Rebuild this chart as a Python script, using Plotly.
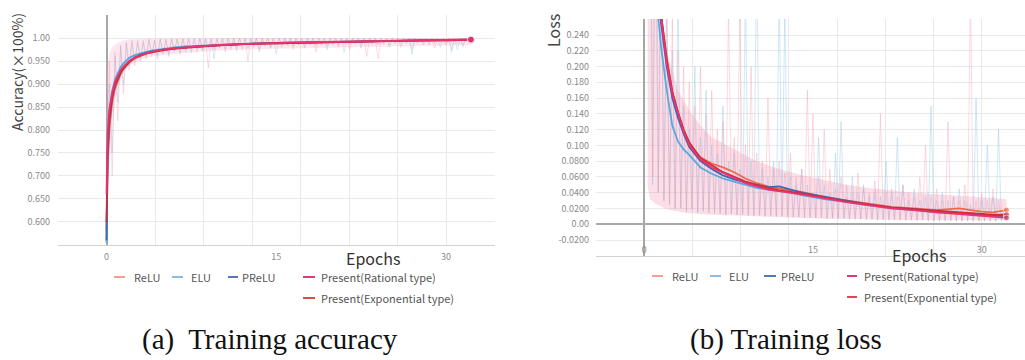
import plotly.graph_objects as go

# ---------------- data: training accuracy (left) ----------------
acc_epochs = [0, 0.1, 0.25, 0.5, 0.75, 1, 1.25, 1.5, 2, 2.5, 3, 3.5, 4, 5, 6, 7, 8,
              10, 12, 14, 16, 18, 20, 22, 24, 26, 28, 30, 32.2]
acc_relu = [0.58, 0.72, 0.80, 0.86, 0.89, 0.908, 0.922, 0.932, 0.946, 0.956, 0.962, 0.967, 0.970,
            0.974, 0.977, 0.980, 0.982, 0.985, 0.987, 0.988, 0.990, 0.991, 0.992, 0.992, 0.993,
            0.994, 0.995, 0.995, 0.996]
acc_elu = [0.555, 0.78, 0.84, 0.885, 0.91, 0.925, 0.937, 0.945, 0.957, 0.963, 0.967, 0.970, 0.973,
           0.977, 0.980, 0.982, 0.983, 0.986, 0.988, 0.989, 0.990, 0.991, 0.992, 0.993, 0.994,
           0.994, 0.995, 0.996, 0.9965]
acc_prelu = [0.56, 0.74, 0.82, 0.87, 0.897, 0.913, 0.925, 0.935, 0.948, 0.958, 0.964, 0.968, 0.971,
             0.975, 0.978, 0.980, 0.982, 0.985, 0.987, 0.989, 0.990, 0.991, 0.992, 0.993, 0.993,
             0.994, 0.995, 0.996, 0.9965]
acc_rational = [0.66, 0.79, 0.845, 0.88, 0.905, 0.918, 0.930, 0.938, 0.950, 0.958, 0.963, 0.967,
                0.970, 0.975, 0.978, 0.980, 0.982, 0.985, 0.987, 0.989, 0.990, 0.991, 0.992,
                0.993, 0.994, 0.994, 0.995, 0.996, 0.997]
acc_exponential = [0.60, 0.76, 0.825, 0.872, 0.898, 0.913, 0.926, 0.935, 0.948, 0.957, 0.962,
                   0.966, 0.969, 0.974, 0.977, 0.979, 0.981, 0.984, 0.987, 0.988, 0.990, 0.991,
                   0.991, 0.992, 0.993, 0.994, 0.995, 0.995, 0.996]

# envelope of the raw (unsmoothed) accuracy values
acc_band_epochs = [0.05, 0.25, 0.5, 1, 1.5, 2, 3, 4, 6, 8, 10, 15, 20, 25, 30, 32.2]
acc_band_low = [0.60, 0.72, 0.82, 0.89, 0.925, 0.94, 0.953, 0.96, 0.966, 0.97, 0.973, 0.977,
                0.980, 0.982, 0.984, 0.985]
acc_band_high = [0.93, 0.965, 0.98, 0.99, 0.995, 0.997, 0.998, 0.999, 0.999, 1.0, 1.0, 1.0, 1.0,
                 1.0, 1.0, 1.0]

RAW_STEP = 0.25  # epochs between raw (unsmoothed) samples
acc_raw_pink = [
    0.62, 0.95, 0.70, 0.97, 0.82, 0.98, 0.88, 0.99,
    0.93, 0.99, 0.94, 0.995, 0.95, 0.99, 0.955, 0.995,
    0.96, 0.995, 0.955, 0.998, 0.965, 0.995, 0.96, 0.998,
    0.97, 0.998, 0.965, 0.999, 0.97, 0.998, 0.975, 0.999,
    0.97, 0.999, 0.975, 0.998, 0.935, 0.999, 0.975, 0.999,
    0.978, 0.999, 0.97, 0.999, 0.975, 0.999, 0.98, 1.0,
    0.975, 0.999, 0.95, 0.999, 0.98, 1.0, 0.975, 0.999,
    0.982, 1.0, 0.978, 0.999, 0.985, 1.0, 0.98, 1.0,
    0.984, 1.0, 0.975, 1.0, 0.985, 0.999, 0.982, 1.0,
    0.985, 1.0, 0.97, 1.0, 0.986, 1.0, 0.984, 1.0,
    0.986, 1.0, 0.98, 1.0, 0.987, 1.0, 0.975, 1.0,
    0.987, 1.0, 0.985, 1.0, 0.96, 1.0, 0.986, 1.0,
    0.955, 1.0, 0.987, 1.0, 0.985, 1.0, 0.988, 1.0,
    0.98, 1.0, 0.988, 1.0, 0.975, 1.0, 0.989, 1.0,
    0.985, 1.0, 0.99, 1.0, 0.978, 1.0, 0.99, 1.0,
    0.985, 1.0, 0.975, 1.0, 0.988, 1.0, 0.98, 1.0, 0.99]
acc_raw_blue = [
    0.58, 0.90, 0.75, 0.96, 0.86, 0.985, 0.90, 0.99,
    0.94, 0.995, 0.95, 0.99, 0.958, 0.995, 0.96, 0.998,
    0.965, 0.995, 0.962, 0.998, 0.968, 0.998, 0.965, 0.999,
    0.972, 0.998, 0.97, 0.999, 0.974, 0.999, 0.968, 0.999,
    0.976, 0.999, 0.972, 0.999, 0.978, 0.999, 0.955, 0.999,
    0.979, 1.0, 0.976, 0.999, 0.98, 1.0, 0.972, 1.0,
    0.982, 1.0, 0.978, 1.0, 0.984, 1.0, 0.97, 1.0,
    0.984, 1.0, 0.98, 1.0, 0.965, 1.0, 0.985, 1.0,
    0.986, 1.0, 0.982, 1.0, 0.986, 1.0, 0.978, 1.0,
    0.987, 1.0, 0.984, 1.0, 0.988, 1.0, 0.975, 1.0,
    0.988, 1.0, 0.985, 1.0, 0.97, 1.0, 0.987, 1.0,
    0.989, 1.0, 0.978, 1.0, 0.988, 1.0, 0.99, 1.0,
    0.985, 1.0, 0.989, 1.0, 0.98, 1.0, 0.99, 1.0,
    0.988, 1.0, 0.99, 1.0, 0.965, 1.0, 0.99, 1.0,
    0.99, 1.0, 0.985, 1.0, 0.99, 1.0, 0.98, 1.0,
    0.99, 1.0, 0.97, 1.0, 0.975, 1.0, 0.985, 1.0, 0.99]

# ---------------- data: training loss (right) ----------------
loss_epochs = [0, 0.5, 1.0, 1.5, 2.0, 2.5, 3, 3.5, 4, 5, 6, 7, 8, 9, 10, 11, 12, 13, 14,
               16, 18, 20, 22, 24, 26, 28, 30, 31, 32.2]
loss_relu = [0.66, 0.47, 0.34, 0.265, 0.21, 0.168, 0.142, 0.12, 0.100, 0.085, 0.077, 0.072, 0.066,
             0.058, 0.052, 0.048, 0.045, 0.043, 0.041, 0.034, 0.030, 0.026, 0.022, 0.020, 0.018,
             0.020, 0.016, 0.015, 0.018]
loss_elu = [0.60, 0.42, 0.30, 0.225, 0.17, 0.125, 0.105, 0.095, 0.088, 0.072, 0.064, 0.058, 0.054,
            0.050, 0.046, 0.044, 0.042, 0.040, 0.037, 0.032, 0.028, 0.024, 0.020, 0.018, 0.015,
            0.014, 0.012, 0.011, 0.010]
loss_prelu = [0.65, 0.46, 0.33, 0.255, 0.20, 0.16, 0.135, 0.115, 0.098, 0.080, 0.070, 0.062, 0.057,
              0.053, 0.050, 0.047, 0.048, 0.044, 0.040, 0.035, 0.030, 0.025, 0.021, 0.019, 0.016,
              0.014, 0.012, 0.011, 0.010]
loss_rational = [0.67, 0.47, 0.34, 0.262, 0.205, 0.165, 0.14, 0.118, 0.100, 0.082, 0.072, 0.065,
                 0.058, 0.052, 0.048, 0.044, 0.042, 0.040, 0.038, 0.033, 0.028, 0.024, 0.020,
                 0.018, 0.015, 0.013, 0.011, 0.010, 0.008]
loss_exponential = [0.68, 0.48, 0.345, 0.266, 0.21, 0.168, 0.142, 0.12, 0.104, 0.084, 0.075,
                    0.066, 0.060, 0.054, 0.050, 0.046, 0.043, 0.041, 0.039, 0.034, 0.029, 0.025,
                    0.021, 0.019, 0.017, 0.015, 0.013, 0.012, 0.012]

# envelope of the raw (unsmoothed) loss values
loss_band_epochs = [0.3, 0.5, 1, 1.5, 2, 3, 4, 5, 6, 8, 10, 12, 14, 16, 18, 20, 24, 28, 32.2]
loss_band_low = [0.05, 0.032, 0.026, 0.022, 0.019, 0.016, 0.014, 0.013, 0.012, 0.011, 0.010,
                 0.009, 0.008, 0.007, 0.007, 0.006, 0.005, 0.005, 0.005]
loss_band_high = [0.30, 0.30, 0.30, 0.27, 0.22, 0.17, 0.145, 0.125, 0.11, 0.095, 0.08, 0.07,
                  0.062, 0.056, 0.05, 0.046, 0.04, 0.036, 0.032]

loss_raw_pink = [
    0.70, 0.45, 0.60, 0.06, 0.50, 0.04, 0.40, 0.03,
    0.30, 0.025, 0.26, 0.02, 0.22, 0.02, 0.20, 0.015,
    0.18, 0.02, 0.15, 0.015, 0.20, 0.018, 0.14, 0.015,
    0.17, 0.014, 0.12, 0.015, 0.13, 0.012, 0.28, 0.014,
    0.11, 0.012, 0.28, 0.013, 0.10, 0.012, 0.20, 0.011,
    0.09, 0.012, 0.08, 0.01, 0.16, 0.012, 0.07, 0.01,
    0.08, 0.01, 0.065, 0.01, 0.09, 0.009, 0.06, 0.01,
    0.07, 0.009, 0.17, 0.01, 0.14, 0.008, 0.06, 0.009,
    0.12, 0.008, 0.07, 0.009, 0.045, 0.008, 0.06, 0.008,
    0.05, 0.007, 0.04, 0.008, 0.065, 0.007, 0.045, 0.007,
    0.04, 0.007, 0.055, 0.006, 0.14, 0.007, 0.04, 0.006,
    0.045, 0.006, 0.035, 0.006, 0.05, 0.005, 0.04, 0.006,
    0.035, 0.005, 0.06, 0.006, 0.10, 0.005, 0.035, 0.005,
    0.045, 0.005, 0.03, 0.005, 0.13, 0.005, 0.035, 0.004,
    0.03, 0.004, 0.05, 0.005, 0.30, 0.004, 0.03, 0.004,
    0.04, 0.004, 0.03, 0.004, 0.045, 0.004, 0.03, 0.005, 0.02]
loss_raw_blue = [
    0.65, 0.50, 0.55, 0.05, 0.45, 0.04, 0.35, 0.03,
    0.28, 0.025, 0.22, 0.02, 0.30, 0.02, 0.15, 0.018,
    0.12, 0.018, 0.20, 0.015, 0.11, 0.016, 0.17, 0.014,
    0.10, 0.014, 0.09, 0.013, 0.15, 0.012, 0.08, 0.013,
    0.09, 0.012, 0.07, 0.012, 0.30, 0.011, 0.08, 0.011,
    0.35, 0.011, 0.07, 0.01, 0.06, 0.01, 0.08, 0.01,
    0.30, 0.01, 0.28, 0.009, 0.06, 0.009, 0.05, 0.009,
    0.07, 0.008, 0.05, 0.008, 0.04, 0.008, 0.11, 0.008,
    0.05, 0.007, 0.04, 0.007, 0.09, 0.007, 0.13, 0.007,
    0.035, 0.006, 0.06, 0.006, 0.04, 0.006, 0.05, 0.006,
    0.035, 0.006, 0.04, 0.005, 0.035, 0.005, 0.08, 0.005,
    0.04, 0.005, 0.11, 0.005, 0.05, 0.005, 0.03, 0.005,
    0.045, 0.005, 0.03, 0.005, 0.035, 0.004, 0.15, 0.004,
    0.03, 0.004, 0.04, 0.004, 0.03, 0.004, 0.035, 0.004,
    0.045, 0.004, 0.03, 0.004, 0.025, 0.004, 0.16, 0.004,
    0.03, 0.004, 0.10, 0.004, 0.035, 0.004, 0.12, 0.004, 0.02]

series_names = ["ReLU", "ELU", "PReLU", "Present(Rational type)", "Present(Exponential type)"]
acc_x_ticks = [0, 15, 30]
acc_y_ticks = [0.55, 0.60, 0.65, 0.70, 0.75, 0.80, 0.85, 0.90, 0.95, 1.00, 1.05]
acc_y_labels = ["", "0.600", "0.650", "0.700", "0.750", "0.800", "0.850", "0.900", "0.950", "1.00", ""]
loss_y_ticks = [-0.04, -0.02, 0.0, 0.02, 0.04, 0.06, 0.08, 0.10, 0.12, 0.14, 0.16, 0.18, 0.20,
                0.22, 0.24, 0.26]
loss_y_labels = ["", "-0.0200", "0.00", "0.0200", "0.0400", "0.0600", "0.0800", "0.100", "0.120",
                 "0.140", "0.160", "0.180", "0.200", "0.220", "0.240", ""]

# ---------------- styles ----------------
W, H = 1025, 360
line_colors = {"ReLU": "#ee6a48", "ELU": "#57a9e0", "PReLU": "#3e68b2",
               "Present(Rational type)": "#e8336f", "Present(Exponential type)": "#cf2a3e"}
key_colors = {"ReLU": "#f3a08e", "ELU": "#8fbbe3", "PReLU": "#5577b6",
              "Present(Rational type)": "#e03a6c", "Present(Exponential type)": "#dc4a4e"}
GRID = "#e9e9e9"
TICKFONT = dict(family="Noto Sans CJK JP, Noto Sans, sans-serif", size=9, color="#8a8a8a")
UIFONT = "Noto Sans CJK JP, Noto Sans, sans-serif"
BAND_PINK = "rgba(246,168,192,0.38)"


def px(x):
    return x / W


def py(y):
    return 1 - y / H


fig = go.Figure()

raw_acc_x = [i * RAW_STEP for i in range(len(acc_raw_pink))]
raw_loss_x = [i * RAW_STEP for i in range(len(loss_raw_pink))]

# raw envelopes (filled)
fig.add_trace(go.Scatter(x=acc_band_epochs, y=acc_band_low, mode="lines", xaxis="x", yaxis="y",
                         line=dict(width=0, color=BAND_PINK), hoverinfo="skip"))
fig.add_trace(go.Scatter(x=acc_band_epochs, y=acc_band_high, mode="lines", xaxis="x", yaxis="y",
                         line=dict(width=0, color=BAND_PINK), fill="tonexty",
                         fillcolor="rgba(246,175,198,0.30)", hoverinfo="skip"))
fig.add_trace(go.Scatter(x=loss_band_epochs, y=loss_band_low, mode="lines", xaxis="x2", yaxis="y2",
                         line=dict(width=0, color=BAND_PINK), hoverinfo="skip"))
fig.add_trace(go.Scatter(x=loss_band_epochs, y=loss_band_high, mode="lines", xaxis="x2",
                         yaxis="y2", line=dict(width=0, color=BAND_PINK), fill="tonexty",
                         fillcolor=BAND_PINK, hoverinfo="skip"))

# raw spikes
fig.add_trace(go.Scatter(x=raw_acc_x, y=acc_raw_blue, mode="lines", xaxis="x", yaxis="y",
                         line=dict(color="rgba(120,190,232,0.33)", width=1), hoverinfo="skip"))
fig.add_trace(go.Scatter(x=raw_acc_x, y=acc_raw_pink, mode="lines", xaxis="x", yaxis="y",
                         line=dict(color="rgba(244,140,170,0.30)", width=1), hoverinfo="skip"))
fig.add_trace(go.Scatter(x=raw_loss_x, y=loss_raw_blue, mode="lines", xaxis="x2", yaxis="y2",
                         line=dict(color="rgba(120,190,232,0.35)", width=1), hoverinfo="skip"))
fig.add_trace(go.Scatter(x=raw_loss_x, y=loss_raw_pink, mode="lines", xaxis="x2", yaxis="y2",
                         line=dict(color="rgba(244,150,170,0.35)", width=1), hoverinfo="skip"))

acc_series = [acc_relu, acc_elu, acc_prelu, acc_rational, acc_exponential]
loss_series = [loss_relu, loss_elu, loss_prelu, loss_rational, loss_exponential]
draw_order = [0, 1, 2, 4, 3]
for i in draw_order:
    name = series_names[i]
    ys = acc_series[i]
    fig.add_trace(go.Scatter(x=acc_epochs, y=ys, mode="lines+markers", name=name,
                             xaxis="x", yaxis="y",
                             line=dict(color=line_colors[name], width=1.8),
                             marker=dict(size=[0] * (len(ys) - 1) + [7], color=line_colors[name])))
for i in draw_order:
    name = series_names[i]
    ys = loss_series[i]
    fig.add_trace(go.Scatter(x=loss_epochs, y=ys, mode="lines+markers", name=name,
                             xaxis="x2", yaxis="y2",
                             line=dict(color=line_colors[name], width=1.8),
                             marker=dict(size=[0] * (len(ys) - 1) + [6], color=line_colors[name])))

grid_x = [k * 30 / 7 for k in range(-1, 9)]

common_x = dict(tickmode="array", tickvals=acc_x_ticks, ticktext=[str(t) for t in acc_x_ticks],
                showgrid=False, zeroline=True, zerolinecolor="#a6a6a6", zerolinewidth=1.5,
                showline=True, linecolor="#d2d2d2", linewidth=1, ticks="", tickfont=TICKFONT,
                minor=dict(tickmode="array", tickvals=grid_x, showgrid=True, gridcolor=GRID,
                           gridwidth=1, ticks=""), fixedrange=True)

fig.update_layout(
    width=W, height=H, margin=dict(l=0, r=0, t=0, b=0),
    paper_bgcolor="white", plot_bgcolor="white", showlegend=False,
    xaxis=dict(domain=[px(58), px(495)], range=[-30 / 7, 34.33], anchor="y",
               ticklabelstandoff=3, **common_x),
    yaxis=dict(domain=[py(245), py(15)], range=[0.5497, 1.0503], anchor="x",
               tickmode="array", tickvals=acc_y_ticks, ticktext=acc_y_labels,
               showgrid=True, gridcolor=GRID, zeroline=False, ticks="",
               tickfont=TICKFONT, ticklabelstandoff=7, showline=False),
    xaxis2=dict(domain=[px(596), 1.0], range=[-30 / 7, 33.85], anchor="y2",
                ticklabelposition="inside", **common_x),
    yaxis2=dict(domain=[py(256), py(19)], range=[-0.0403, 0.2603], anchor="x2",
                tickmode="array", tickvals=loss_y_ticks, ticktext=loss_y_labels,
                showgrid=True, gridcolor=GRID, zeroline=True, zerolinecolor="#a8a8a8",
                zerolinewidth=2, ticks="", tickfont=TICKFONT, ticklabelstandoff=6),
)


def label(text, x, y, size, color, angle=0, xanchor="center", family=UIFONT):
    return dict(text=text, x=px(x), y=py(y), xref="paper", yref="paper", textangle=angle,
                xanchor=xanchor, yanchor="middle", showarrow=False,
                font=dict(family=family, size=size, color=color))


ann = []
shapes = []
# axis titles
ann.append(label("Accuracy(×100%)", 17, 72, 14, "#444", angle=-90))
ann.append(label("Loss", 553, 31, 16, "#444", angle=-90))
ann.append(label("Epochs", 373, 258, 16, "#333"))
ann.append(label("Epochs", 919, 255, 16, "#333"))

# legends (key line start, key line end, text start, row y)
legend_left = [(114, 125, 132, 277), (172, 183, 189, 277), (228, 238, 240, 277),
               (303, 315, 319, 277), (303, 315, 319, 298)]
legend_right = [(652, 663, 670, 276), (710, 721, 727, 276), (764, 776, 779, 276),
                (847, 857, 862, 276), (847, 857, 862, 297)]
for layout_spec in (legend_left, legend_right):
    for name, (k0, k1, tx, ry) in zip(series_names, layout_spec):
        shapes.append(dict(type="line", xref="paper", yref="paper", x0=px(k0), x1=px(k1),
                           y0=py(ry), y1=py(ry), line=dict(color=key_colors[name], width=2)))
        ann.append(label(name, tx, ry, 11, "#555", xanchor="left"))

# captions
SERIF = "Liberation Serif, Times New Roman, serif"
ann.append(label("(a)  Training accuracy", 270, 339, 29, "#111", family=SERIF))
ann.append(label("(b) Training loss", 786, 339, 29, "#111", family=SERIF))

fig.update_layout(annotations=ann, shapes=shapes)
fig.write_html("out.html")
